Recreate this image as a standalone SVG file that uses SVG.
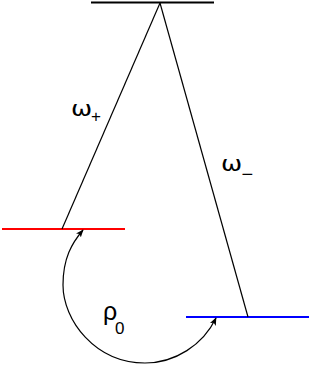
<svg xmlns="http://www.w3.org/2000/svg" width="312" height="365" viewBox="0 0 312 365">
<style>
.lvl{stroke-width:2;fill:none}
.ln{stroke:#000;stroke-width:1.2;fill:none}
.g{font-family:"DejaVu Sans","Liberation Sans",sans-serif;font-size:22px;fill:#000}
.s{font-family:"Liberation Sans",Arial,sans-serif;font-size:17px;fill:#000}
</style>
<defs>
<marker id="ah" viewBox="0 0 10 10" refX="9" refY="5" markerWidth="8" markerHeight="8" markerUnits="userSpaceOnUse" orient="auto">
<path d="M0,1 L10,5 L0,9 L2.5,5 Z" fill="#000"/>
</marker>
</defs>
<g id="top"><line class="lvl" x1="91" y1="2.5" x2="214" y2="2.5" stroke="#000"/></g>
<g id="red"><line class="lvl" x1="2" y1="229" x2="125" y2="229" stroke="#ff0000"/></g>
<g id="blue"><line class="lvl" x1="186" y1="317" x2="309" y2="317" stroke="#0000ff"/></g>
<g id="connectors">
<line class="ln" x1="160" y1="3" x2="62" y2="229"/>
<line class="ln" x1="160" y1="3" x2="248" y2="317"/>
<path class="ln" d="M145,363 C95,363 63,320 63,285 C63,258 72,243 83,230" marker-end="url(#ah)"/>
<path class="ln" d="M145,363 C175,363 203,345 216,318" marker-end="url(#ah)"/>
</g>
<g id="labels">
<text class="g" transform="translate(71,116) scale(1.15,1)">ω</text>
<text class="s" x="91" y="121.5">+</text>
<text class="g" transform="translate(221,171) scale(1.15,1)">ω</text>
<text class="s" x="241.5" y="181" style="font-size:20px">−</text>
<text class="s" x="103" y="320" style="font-size:25px">ρ</text>
<text class="s" x="115" y="334">0</text>
</g>
</svg>
